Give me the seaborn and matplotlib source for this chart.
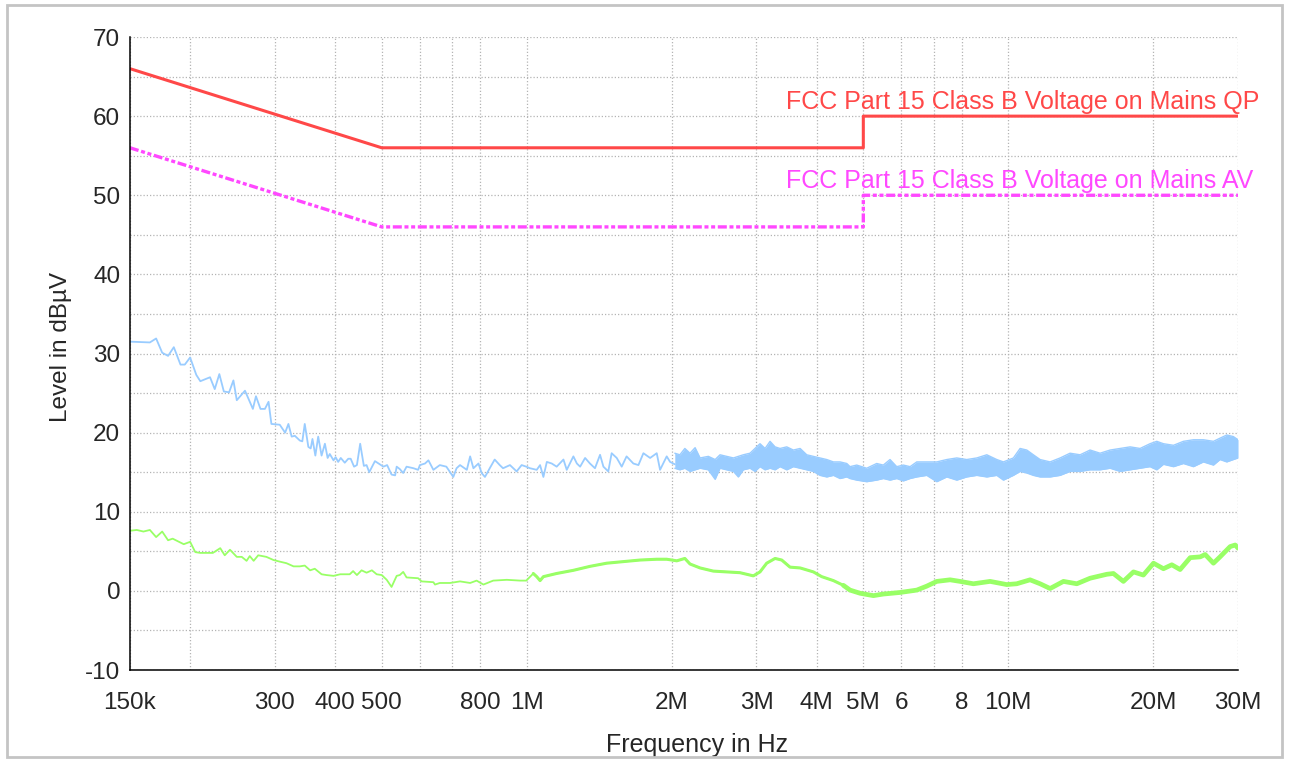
import numpy as np
import pandas as pd
import matplotlib
matplotlib.use("Agg")
import matplotlib.pyplot as plt
import seaborn as sns
from matplotlib.patches import Rectangle
from matplotlib.ticker import FixedLocator, FixedFormatter, NullLocator

# ---- limit lines (frequency in kHz, level in dBuV) ----
qp_freq_khz = [150, 500, 5000, 5000, 30000]
qp_level = [66, 56, 56, 60, 60]
av_freq_khz = [150, 500, 5000, 5000, 30000]
av_level = [56, 46, 46, 50, 50]
qp_label = "FCC Part 15 Class B Voltage on Mains QP"
av_label = "FCC Part 15 Class B Voltage on Mains AV"

# ---- peak scan (blue), single trace up to 2 MHz ----
peak_freq_khz = [
    150, 165, 170, 175, 180, 185, 191, 195, 200, 206,
    210, 220, 225, 230, 235, 241, 246, 250, 260, 270,
    274, 280, 286, 291, 295, 307, 315, 320, 325, 330,
    338, 342, 346, 352, 356, 359, 364, 369, 375, 381,
    386, 390, 397, 401, 406, 411, 419, 426, 431, 438,
    444, 451, 459, 465, 471, 484, 504, 513, 524, 533,
    537, 545, 554, 563, 582, 595, 600, 615, 625, 635,
    640, 660, 681, 704, 715, 727, 751, 763, 775, 794,
    806, 819, 838, 858, 879, 893, 923, 953, 976, 998,
    1016, 1049, 1066, 1083, 1101, 1127, 1154, 1192, 1211, 1250,
    1271, 1291, 1322, 1353, 1386, 1420, 1443, 1477, 1501, 1538,
    1575, 1612, 1665, 1706, 1747, 1804, 1862, 1892, 1953, 1985,
    2030,
]
peak_level = [
    31.5, 31.4, 31.9, 30.1, 29.7, 30.8, 28.6, 28.6, 29.5, 27.3,
    26.5, 27.0, 25.5, 27.4, 25.2, 25.1, 26.6, 24.1, 25.3, 23.0,
    24.6, 23.0, 23.0, 23.9, 21.1, 21.0, 20.0, 21.1, 19.5, 19.6,
    19.0, 18.9, 21.1, 18.2, 18.0, 19.2, 17.1, 19.5, 17.1, 18.6,
    16.8, 17.3, 16.5, 16.9, 16.3, 16.8, 16.2, 16.7, 16.7, 15.7,
    15.9, 18.6, 15.8, 15.9, 15.0, 16.4, 15.7, 15.9, 14.7, 14.6,
    15.7, 15.4, 14.9, 15.7, 15.5, 15.3, 15.9, 16.1, 16.5, 15.7,
    15.3, 15.9, 15.7, 14.4, 15.5, 15.9, 15.3, 17.0, 15.5, 16.1,
    14.9, 14.4, 15.5, 16.6, 15.9, 15.5, 15.9, 15.1, 15.9, 15.7,
    15.5, 15.3, 15.9, 14.4, 16.3, 16.1, 15.7, 16.6, 15.3, 17.0,
    16.1, 15.7, 16.8, 16.1, 15.5, 17.2, 15.7, 15.1, 17.4, 16.8,
    15.7, 17.0, 16.1, 15.9, 17.4, 16.8, 17.4, 15.3, 17.0, 16.3,
    16.0,
]

# ---- peak scan above 2 MHz: dense sweep shown as min/max envelope ----
peak_band_freq_khz = [
    2030, 2080, 2130, 2183, 2237, 2291, 2383, 2462, 2520, 2602,
    2687, 2751, 2817, 2909, 2979, 3051, 3126, 3201, 3279, 3358,
    3467, 3579, 3696, 3815, 3938, 4065, 4198, 4334, 4474, 4620,
    4692, 4845, 5082, 5330, 5502, 5681, 5866, 6055, 6253, 6456,
    6771, 7104, 7452, 7817, 8199, 8602, 9024, 9465, 9770, 10247,
    10581, 10925, 11274, 11643, 12214, 12813, 13437, 14097, 14787, 15510,
    16275, 17070, 17910, 18780, 19695, 20340, 21000, 22035, 23100, 24240,
    25425, 26670, 27525, 28425, 29340, 30000,
]
peak_band_low = [
    15.5, 15.3, 15.5, 15.1, 15.3, 15.5, 15.3, 14.1, 15.5, 15.3,
    15.1, 14.4, 15.3, 15.5, 15.1, 15.7, 15.3, 15.5, 15.3, 15.7,
    15.3, 15.7, 15.5, 15.3, 15.1, 14.6, 14.4, 14.6, 14.2, 14.4,
    14.2, 14.0, 13.8, 14.0, 14.2, 14.0, 14.2, 13.9, 14.2, 14.4,
    14.6, 13.8, 14.4, 14.0, 14.4, 14.6, 14.4, 14.6, 14.0, 14.6,
    15.1, 14.9, 14.6, 14.4, 14.4, 14.6, 15.1, 15.1, 15.3, 15.3,
    15.5, 15.1, 15.3, 15.5, 15.7, 15.3, 16.0, 15.7, 16.1, 15.7,
    16.3, 15.9, 16.6, 16.3, 16.6, 16.8,
]
peak_band_high = [
    17.4, 17.2, 18.0, 17.4, 18.1, 16.8, 17.0, 16.6, 17.2, 17.0,
    16.8, 17.0, 17.2, 17.4, 18.0, 18.6, 18.0, 18.9, 18.2, 18.0,
    18.2, 17.8, 18.0, 17.2, 17.0, 16.8, 16.6, 16.3, 16.3, 16.1,
    15.7, 15.9, 15.5, 16.1, 15.9, 16.6, 15.7, 15.9, 15.7, 16.3,
    16.3, 16.3, 16.6, 16.8, 16.6, 16.8, 17.2, 16.6, 16.3, 16.8,
    18.0, 17.8, 17.2, 16.6, 16.3, 16.8, 17.4, 17.2, 17.8, 17.4,
    17.8, 18.0, 18.2, 18.0, 18.6, 18.9, 18.6, 18.4, 18.9, 19.1,
    19.1, 18.9, 19.3, 19.7, 19.5, 19.1,
]

# ---- average scan (green) ----
avg_freq_khz = [
    150, 155, 160, 165, 170, 175, 180, 184, 194, 200,
    205, 210, 223, 231, 236, 242, 250, 256, 262, 266,
    271, 277, 288, 298, 307, 317, 328, 338, 346, 355,
    363, 375, 384, 397, 410, 429, 436, 444, 454, 465,
    477, 488, 500, 512, 524, 537, 545, 554, 563, 595,
    605, 640, 645, 660, 693, 727, 763, 787, 813, 852,
    909, 969, 998, 1032, 1049, 1066, 1083, 1154, 1250, 1353,
    1466, 1587, 1720, 1862, 1953, 2001, 2049, 2130, 2183, 2291,
    2441, 2602, 2773, 2955, 3051, 3150, 3279, 3385, 3522, 3696,
    3938, 4098, 4334, 4546, 4692, 4923, 5247, 5502, 5960, 6456,
    6771, 7104, 7571, 7941, 8464, 9167, 9926, 10411, 11098, 11643,
    12214, 13019, 13878, 14787, 16020, 16530, 17340, 18195, 19080, 20025,
    21000, 21855, 22740, 23865, 25035, 25635, 26670, 27525, 28890, 29595,
    30000,
]
avg_level = [
    7.6, 7.7, 7.5, 7.7, 6.8, 7.5, 6.4, 6.6, 5.9, 6.2,
    4.9, 4.8, 4.8, 5.4, 4.5, 5.2, 4.3, 4.3, 3.8, 4.4,
    3.8, 4.5, 4.3, 3.9, 3.7, 3.5, 3.1, 3.1, 3.2, 2.6,
    2.8, 2.1, 2.0, 1.9, 2.1, 2.1, 2.5, 2.0, 2.6, 2.3,
    2.6, 2.1, 2.0, 1.4, 0.5, 1.9, 2.0, 2.4, 1.7, 1.6,
    1.2, 1.1, 0.8, 1.0, 1.0, 1.2, 1.0, 1.3, 0.8, 1.3,
    1.4, 1.3, 1.3, 2.2, 1.8, 1.3, 1.8, 2.2, 2.6, 3.1,
    3.5, 3.7, 3.9, 4.0, 4.0, 3.9, 3.8, 4.1, 3.4, 2.9,
    2.5, 2.4, 2.3, 1.9, 2.4, 3.5, 4.1, 3.9, 3.0, 2.9,
    2.4, 1.8, 1.3, 0.7, 0.1, -0.3, -0.6, -0.4, -0.2, 0.1,
    0.6, 1.2, 1.4, 1.2, 0.9, 1.2, 0.8, 0.9, 1.4, 0.9,
    0.3, 1.2, 0.9, 1.6, 2.1, 2.2, 1.2, 2.4, 2.0, 3.5,
    2.8, 3.3, 2.7, 4.2, 4.3, 4.6, 3.5, 4.3, 5.6, 5.8,
    5.4,
]

# ---- axis ticks ----
x_tick_khz = [150, 200, 300, 400, 500, 600, 700, 800, 1000, 2000,
              3000, 4000, 5000, 6000, 7000, 8000, 10000, 20000, 30000]
x_tick_labels = ["150k", "", "300", "400", "500", "", "", "800", "1M", "2M",
                 "3M", "4M", "5M", "6", "", "8", "10M", "20M", "30M"]
y_major = [-10, 0, 10, 20, 30, 40, 50, 60, 70]
y_minor = [-5, 5, 15, 25, 35, 45, 55, 65]

C_QP = "#ff4848"
C_AV = "#ff48ff"
C_PEAK = "#99ccff"
C_AVG = "#99ff66"

sns.set_style("white")
plt.rcParams["font.family"] = ["Liberation Sans", "DejaVu Sans"]

fig = plt.figure(figsize=(12.93, 7.6), dpi=100)
ax = fig.add_axes([0.1005, 0.1184, 0.8570, 0.8329])
ax.set_xscale("log")

khz = 1e3
peak = pd.DataFrame({"f": np.array(peak_freq_khz) * khz, "lvl": peak_level})
band = pd.DataFrame({"f": np.array(peak_band_freq_khz) * khz,
                     "lo": peak_band_low, "hi": peak_band_high})
avg = pd.DataFrame({"f": np.array(avg_freq_khz) * khz, "lvl": avg_level})
qp = pd.DataFrame({"f": np.array(qp_freq_khz) * khz, "lvl": qp_level})
av = pd.DataFrame({"f": np.array(av_freq_khz) * khz, "lvl": av_level})

# peak trace
sns.lineplot(data=peak, x="f", y="lvl", estimator=None, sort=False,
             color=C_PEAK, lw=1.3, ax=ax, legend=False)
ax.fill_between(band["f"], band["lo"], band["hi"], color=C_PEAK, lw=0)
for col in ("lo", "hi"):
    sns.lineplot(data=band, x="f", y=col, estimator=None, sort=False,
                 color=C_PEAK, lw=1.0, ax=ax, legend=False)

# average trace, heavier where the sweep gets dense
sns.lineplot(data=avg, x="f", y="lvl", estimator=None, sort=False,
             color=C_AVG, lw=1.3, ax=ax, legend=False)
sns.lineplot(data=avg[avg["f"] >= 1.0e6], x="f", y="lvl", estimator=None,
             sort=False, color=C_AVG, lw=2.2, ax=ax, legend=False)
sns.lineplot(data=avg[avg["f"] >= 4.5e6], x="f", y="lvl", estimator=None,
             sort=False, color=C_AVG, lw=3.4, ax=ax, legend=False)

# limit lines
sns.lineplot(data=qp, x="f", y="lvl", estimator=None, sort=False,
             color=C_QP, lw=2.2, ax=ax, legend=False)
sns.lineplot(data=av, x="f", y="lvl", estimator=None, sort=False,
             color=C_AV, lw=2.4, ax=ax, legend=False)
ax.lines[-1].set_linestyle((0, (2.7, 0.8, 1.2, 0.8, 1.2, 0.8)))

ax.text(3.45e6, qp_level[-1] + 0.9, qp_label, color=C_QP, fontsize=18,
        va="baseline", ha="left", clip_on=False)
ax.text(3.45e6, av_level[-1] + 0.9, av_label, color=C_AV, fontsize=18,
        va="baseline", ha="left", clip_on=False)

# axes
ax.set_xlim(150e3, 30e6)
ax.set_ylim(-10, 70)
ax.xaxis.set_major_locator(FixedLocator(np.array(x_tick_khz) * khz))
ax.xaxis.set_major_formatter(FixedFormatter(x_tick_labels))
ax.xaxis.set_minor_locator(NullLocator())
ax.yaxis.set_major_locator(FixedLocator(y_major))
ax.yaxis.set_major_formatter(FixedFormatter([str(v) for v in y_major]))
ax.yaxis.set_minor_locator(FixedLocator(y_minor))

ax.tick_params(axis="y", which="both", direction="inout", length=8,
               width=1.1, pad=3, labelsize=17.5, color="black")
ax.tick_params(axis="x", which="major", direction="inout", length=7,
               width=1.1, pad=12, labelsize=17.5, color="black")

ax.set_axisbelow(True)
grid_kw = dict(color="#b4b4b4", lw=0.9, linestyle=(0, (1, 1.6)))
ax.grid(True, axis="x", which="major", **grid_kw)
ax.grid(True, axis="y", which="both", **grid_kw)

for side in ("top", "right"):
    ax.spines[side].set_visible(False)
for side in ("left", "bottom"):
    ax.spines[side].set_color("black")
    ax.spines[side].set_linewidth(1.1)

ax.set_ylabel("Level in dBµV", fontsize=17.5)
ax.yaxis.set_label_coords(-0.052, 0.51)
ax.set_xlabel("Frequency in Hz", fontsize=18)
ax.xaxis.set_label_coords(0.512, -0.1)

# outer frame
fig.patches.append(Rectangle((7 / 1293, 3 / 760), 1275 / 1293, 752 / 760,
                             transform=fig.transFigure, fill=False,
                             ec="#c4c4c4", lw=2))

fig.savefig("out.png", dpi=100, facecolor="white")
